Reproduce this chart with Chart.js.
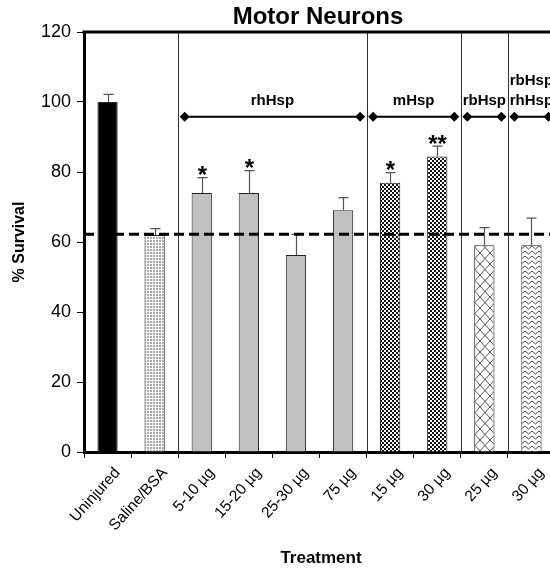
<!DOCTYPE html>
<html>
<head>
<meta charset="utf-8">
<script src="https://cdn.jsdelivr.net/npm/chart.js@4"></script>
<style>
  html, body { margin: 0; padding: 0; background: #fff; }
  #wrap { width: 550px; height: 569px; overflow: hidden; }
</style>
</head>
<body>
<div id="wrap"><canvas id="chart" width="560" height="569"></canvas></div>
<script>
// values
const categories = ['Uninjured', 'Saline/BSA', '5-10 µg', '15-20 µg', '25-30 µg', '75 µg', '15 µg', '30 µg', '25 µg', '30 µg'];
const survival = [100, 62, 74, 74, 56.3, 69.1, 76.9, 84.4, 59.1, 59.1];
const errorUp = [2.2, 1.8, 4.4, 6.4, 5.9, 3.6, 2.9, 3.0, 5.0, 7.7];
const marks = ['', '', '*', '*', '', '', '*', '**', '', ''];
const barFills = ['solid', 'stipple', 'gray', 'gray', 'gray', 'gray', 'checker', 'checker', 'lattice', 'zigzag'];
const baseline = 62.2;
const separators = [1.5, 5.5, 7.5, 8.5];
const groupLabels = [['rhHsp'], ['mHsp'], ['rbHsp'], ['rbHsp', 'rhHsp']];
const groupStart = [1.5, 5.5, 7.5, 8.5];
const groupEnd = [5.5, 7.5, 8.5, 9.5];
const arrowLevel = 95.8;
const yTicks = [0, 20, 40, 60, 80, 100, 120];

const FONT = "Arial, 'Liberation Sans', sans-serif";

function tile(w, h, draw) {
  const c = document.createElement('canvas');
  c.width = w; c.height = h;
  const g = c.getContext('2d');
  g.fillStyle = '#fff';
  g.fillRect(0, 0, w, h);
  draw(g);
  return document.createElement('canvas').getContext('2d').createPattern(c, 'repeat');
}

function makeFill(kind) {
  if (kind === 'solid') return '#000';
  if (kind === 'gray') return '#c0c0c0';
  if (kind === 'stipple') return tile(3, 3, g => {
    g.fillStyle = '#a8a8a8';
    g.fillRect(0, 0, 2, 2);
  });
  if (kind === 'checker') return tile(4, 4, g => {
    g.fillStyle = '#111';
    g.fillRect(0, 0, 2, 2);
    g.fillRect(2, 2, 2, 2);
  });
  if (kind === 'lattice') return tile(10, 11, g => {
    g.strokeStyle = '#555';
    g.lineWidth = 1;
    g.beginPath();
    g.moveTo(0, 0); g.lineTo(10, 11);
    g.moveTo(10, 0); g.lineTo(0, 11);
    g.stroke();
  });
  if (kind === 'zigzag') return tile(7, 5, g => {
    g.strokeStyle = '#444';
    g.lineWidth = 1;
    g.beginPath();
    g.moveTo(0, 1); g.lineTo(3.5, 4); g.lineTo(7, 1);
    g.stroke();
  });
  return '#999';
}

const overlay = {
  id: 'overlay',
  afterDatasetsDraw(chart) {
    const ctx = chart.ctx;
    const x = chart.scales.x;
    const y = chart.scales.y;
    const area = chart.chartArea;
    ctx.save();

    // group separators
    ctx.strokeStyle = '#333';
    ctx.lineWidth = 1;
    separators.forEach(s => {
      const px = Math.round(x.getPixelForValue(s)) + 0.5;
      ctx.beginPath();
      ctx.moveTo(px, area.top);
      ctx.lineTo(px, area.bottom);
      ctx.stroke();
    });

    // error bars (upper only) and significance marks
    survival.forEach((v, i) => {
      const cx = Math.round(x.getPixelForValue(i)) + 0.5;
      const top = y.getPixelForValue(v + errorUp[i]);
      const base = y.getPixelForValue(v);
      ctx.strokeStyle = '#555';
      ctx.lineWidth = 1.2;
      ctx.beginPath();
      ctx.moveTo(cx, base);
      ctx.lineTo(cx, top);
      ctx.moveTo(cx - 5, top);
      ctx.lineTo(cx + 5, top);
      ctx.stroke();
      if (marks[i]) {
        ctx.fillStyle = '#000';
        ctx.font = 'bold 24px ' + FONT;
        ctx.textAlign = 'center';
        ctx.textBaseline = 'alphabetic';
        ctx.fillText(marks[i], cx, top + 5.5);
      }
    });

    // dashed reference line
    const yb = y.getPixelForValue(baseline);
    ctx.strokeStyle = '#000';
    ctx.lineWidth = 3;
    ctx.setLineDash([10, 5]);
    ctx.beginPath();
    ctx.moveTo(area.left, yb);
    ctx.lineTo(area.right, yb);
    ctx.stroke();
    ctx.setLineDash([]);

    // group arrows with diamond ends
    const ya = y.getPixelForValue(arrowLevel);
    groupLabels.forEach((lines, k) => {
      const x1 = x.getPixelForValue(groupStart[k]) + 6.5;
      const x2 = x.getPixelForValue(groupEnd[k]) - 6.5;
      ctx.strokeStyle = '#000';
      ctx.lineWidth = 2;
      ctx.beginPath();
      ctx.moveTo(x1, ya);
      ctx.lineTo(x2, ya);
      ctx.stroke();
      ctx.fillStyle = '#000';
      [x1, x2].forEach(px => {
        ctx.beginPath();
        ctx.moveTo(px - 5, ya);
        ctx.lineTo(px, ya - 5);
        ctx.lineTo(px + 5, ya);
        ctx.lineTo(px, ya + 5);
        ctx.closePath();
        ctx.fill();
      });
      ctx.font = 'bold 15px ' + FONT;
      ctx.textAlign = 'center';
      ctx.textBaseline = 'middle';
      const mid = (x1 + x2) / 2;
      lines.forEach((t, j) => {
        ctx.fillText(t, mid, ya - 16 - (lines.length - 1 - j) * 20);
      });
    });

    // top frame line
    ctx.strokeStyle = '#000';
    ctx.lineWidth = 3;
    ctx.beginPath();
    ctx.moveTo(area.left - 1.5, area.top);
    ctx.lineTo(area.right + 10, area.top);
    ctx.stroke();

    // titles
    ctx.fillStyle = '#000';
    ctx.textAlign = 'center';
    ctx.textBaseline = 'middle';
    ctx.font = 'bold 24px ' + FONT;
    ctx.fillText('Motor Neurons', 318, 17);
    ctx.font = 'bold 17px ' + FONT;
    ctx.fillText('Treatment', 321, 558);
    ctx.translate(20, 242);
    ctx.rotate(-Math.PI / 2);
    ctx.font = 'bold 16px ' + FONT;
    ctx.fillText('% Survival', 0, 0);
    ctx.restore();
  }
};

new Chart(document.getElementById('chart'), {
  type: 'bar',
  data: {
    labels: categories,
    datasets: [{
      data: survival,
      backgroundColor: barFills.map(makeFill),
      borderColor: '#222',
      borderWidth: 1,
      borderSkipped: 'bottom',
      categoryPercentage: 1,
      barPercentage: 0.43
    }]
  },
  options: {
    responsive: false,
    animation: false,
    layout: { padding: { top: 32, right: 5, left: 0, bottom: 0 } },
    plugins: {
      legend: { display: false },
      tooltip: { enabled: false }
    },
    scales: {
      x: {
        offset: true,
        grid: {
          display: true,
          drawOnChartArea: false,
          offset: true,
          tickLength: 6,
          tickColor: '#000',
          tickWidth: 1
        },
        border: { display: true, color: '#000', width: 3 },
        ticks: {
          color: '#000',
          font: { family: FONT, size: 15.5 },
          minRotation: 48,
          maxRotation: 48,
          autoSkip: false,
          padding: 6,
          labelOffset: 10
        },
        afterFit: s => { s.height = 117; }
      },
      y: {
        min: 0,
        max: 120,
        afterBuildTicks: s => { s.ticks = yTicks.map(v => ({ value: v })); },
        grid: {
          display: true,
          drawOnChartArea: false,
          tickLength: 7,
          tickColor: '#000',
          tickWidth: 1
        },
        border: { display: true, color: '#000', width: 3 },
        ticks: {
          color: '#000',
          font: { family: FONT, size: 18 },
          padding: 6
        },
        afterFit: s => { s.width = 84; }
      }
    }
  },
  plugins: [overlay]
});
</script>
</body>
</html>
